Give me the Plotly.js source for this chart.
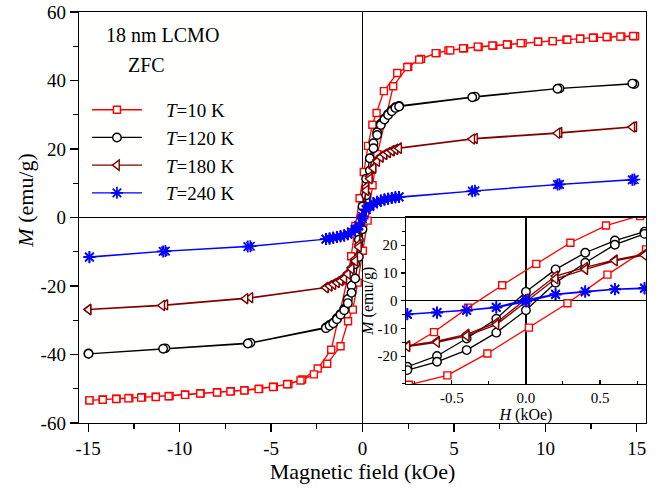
<!DOCTYPE html>
<html>
<head>
<meta charset="utf-8">
<script src="https://cdn.plot.ly/plotly-3.0.1.min.js"></script>
<style>
  html, body { margin: 0; padding: 0; background: #fff; }
  #chart { width: 668px; height: 489px; }
</style>
</head>
<body>
<div id="chart"></div>
<script>
// ---------- data (H in kOe, M in emu/g) ----------
// T = 10 K : descending branch (+H -> -H) and ascending branch (-H -> +H)
var H10_dn = [14.9, 14.15, 13.4, 12.65, 11.9, 11.15, 10.4, 9.6, 8.75, 7.95, 7.15, 6.35, 5.55, 4.7, 4.05, 3.2, 2.5, 1.9, 1.17, 0.77, 0.54, 0.30, 0.07, -0.16, -0.39, -0.62, -0.84, -1.71, -2.45, -3.3, -4.05, -4.85, -5.65, -6.45, -7.2, -7.95, -8.85, -9.7, -10.55, -11.3, -12.05, -12.75, -13.45, -14.2, -14.93];
var M10_dn = [52.9, 52.8, 52.7, 52.5, 52.2, 51.9, 51.5, 51.3, 50.9, 50.5, 50.1, 49.8, 49.4, 48.8, 48.0, 46.3, 44.0, 42.2, 36.9, 30.5, 27.1, 20.9, 13.3, 5.6, -2.5, -11.3, -18.4, -38.6, -44.1, -47.3, -48.6, -49.4, -50.0, -50.4, -50.7, -51.0, -51.3, -51.7, -52.1, -52.3, -52.5, -52.7, -52.9, -53.1, -53.4];
var H10_up = [-14.93, -14.2, -13.46, -12.8, -12.1, -11.3, -10.6, -9.7, -8.87, -7.95, -7.22, -6.46, -5.68, -4.89, -4.12, -3.39, -2.66, -1.93, -1.2, -0.79, -0.53, -0.26, 0.02, 0.28, 0.55, 0.81, 1.68, 2.45, 3.1, 4.0, 4.8, 5.5, 6.3, 7.1, 7.9, 8.65, 9.6, 10.4, 11.2, 11.9, 12.6, 13.35, 14.1, 14.8];
var M10_up = [-53.4, -53.2, -53.0, -52.8, -52.6, -52.4, -52.2, -51.8, -51.4, -51.1, -50.8, -50.5, -50.1, -49.5, -48.7, -47.6, -45.8, -42.7, -37.6, -30.3, -26.9, -19.0, -9.7, -0.9, 9.4, 18.5, 38.3, 43.9, 46.1, 48.0, 48.8, 49.4, 49.9, 50.2, 50.5, 50.9, 51.3, 51.5, 51.9, 52.2, 52.5, 52.7, 52.8, 53.0];

// T = 120 K
var H120_dn = [14.86, 10.77, 6.15, 2.0, 1.8, 1.6, 1.4, 1.2, 1.0, 0.8, 0.6, 0.4, 0.2, 0.0, -0.2, -0.4, -0.6, -0.8, -1.0, -1.2, -1.4, -1.6, -1.8, -2.0, -6.13, -10.78, -14.98];
var M120_dn = [39.0, 37.7, 35.3, 32.6, 32.2, 31.3, 30.2, 28.9, 27.4, 24.9, 21.7, 17.3, 11.3, 3.2, -6.5, -13.6, -19.9, -23.8, -26.7, -28.2, -29.4, -30.7, -31.4, -32.1, -36.6, -38.2, -39.7];
var H120_up = [-14.98, -10.9, -6.27, -2.0, -1.8, -1.6, -1.4, -1.2, -1.0, -0.8, -0.6, -0.4, -0.2, 0.0, 0.2, 0.4, 0.6, 0.8, 1.0, 1.2, 1.4, 1.6, 1.8, 2.0, 6.0, 10.66, 14.75];
var M120_up = [-39.8, -38.3, -36.8, -32.3, -31.6, -30.9, -29.7, -28.4, -27.1, -25.0, -22.0, -17.8, -11.5, -3.4, 6.5, 13.7, 20.2, 24.1, 27.0, 28.6, 29.9, 31.0, 32.0, 32.4, 35.1, 37.6, 39.1];

// T = 180 K
var H180_dn = [14.86, 10.77, 6.15, 2.0, 1.8, 1.6, 1.4, 1.2, 1.0, 0.8, 0.6, 0.4, 0.2, 0.0, -0.2, -0.4, -0.6, -0.8, -1.0, -1.2, -1.4, -1.6, -1.8, -2.0, -6.13, -10.78, -14.98];
var M180_dn = [26.5, 24.8, 23.1, 20.3, 19.9, 19.5, 19.0, 18.5, 17.9, 16.8, 14.7, 12.0, 8.9, 0.6, -7.9, -12.1, -14.6, -16.2, -17.4, -18.2, -18.8, -19.4, -19.9, -20.4, -23.4, -25.5, -26.8];
var H180_up = [-14.98, -10.95, -6.4, -2.0, -1.8, -1.6, -1.4, -1.2, -1.0, -0.8, -0.6, -0.4, -0.2, 0.0, 0.2, 0.4, 0.6, 0.8, 1.0, 1.2, 1.4, 1.6, 1.8, 2.0, 6.0, 10.66, 14.75];
var M180_up = [-26.9, -25.7, -23.7, -20.5, -20.0, -19.5, -19.0, -18.5, -17.8, -16.5, -15.0, -12.7, -8.6, -0.4, 7.9, 11.3, 14.4, 16.4, 17.6, 18.4, 19.0, 19.5, 19.9, 20.2, 22.9, 24.6, 26.4];

// T = 240 K
var H240_dn = [14.86, 10.77, 6.15, 2.0, 1.8, 1.6, 1.4, 1.2, 1.0, 0.8, 0.6, 0.4, 0.2, 0.0, -0.2, -0.4, -0.6, -0.8, -1.0, -1.2, -1.4, -1.6, -1.8, -2.0, -6.13, -10.78, -14.93];
var M240_dn = [11.1, 9.7, 7.8, 6.0, 5.9, 5.7, 5.5, 5.3, 5.0, 4.6, 4.2, 3.4, 2.4, 0.3, -2.3, -3.4, -4.2, -4.8, -5.2, -5.5, -5.7, -5.9, -6.1, -6.3, -8.4, -9.8, -11.5];
var H240_up = [-14.93, -10.9, -6.27, -2.0, -1.8, -1.6, -1.4, -1.2, -1.0, -0.8, -0.6, -0.4, -0.2, 0.0, 0.2, 0.4, 0.6, 0.8, 1.0, 1.2, 1.4, 1.6, 1.8, 2.0, 6.0, 10.66, 14.75];
var M240_up = [-11.6, -9.9, -8.5, -6.3, -6.1, -5.9, -5.7, -5.5, -5.3, -4.9, -4.3, -3.5, -2.5, -0.3, 2.2, 3.2, 4.1, 4.4, 4.9, 5.2, 5.5, 5.7, 5.9, 6.0, 7.7, 9.6, 11.0];

var seriesNames = ['<i>T</i>=10 K', '<i>T</i>=120 K', '<i>T</i>=180 K', '<i>T</i>=240 K'];

// tick labels
var mainXTicks = [-15, -10, -5, 0, 5, 10, 15];
var mainXText = ['-15', '-10', '-5', '0', '5', '10', '15'];
var mainYTicks = [-60, -40, -20, 0, 20, 40, 60];
var mainYText = ['-60', '-40', '-20', '0', '20', '40', '60'];
var insetXTicks = [-0.5, 0, 0.5];
var insetXText = ['-0.5', '0.0', '0.5'];
var insetYTicks = [-20, -10, 0, 10, 20];
var insetYText = ['-20', '-10', '0', '10', '20'];

// ---------- styling ----------
var FONT = 'Liberation Serif';
var styles = [
  {color: '#ff0000', symbol: 'square', size: 7},
  {color: '#000000', symbol: 'circle', size: 8.5},
  {color: '#800000', symbol: 'triangle-left', size: 9},
  {color: '#0000ff', symbol: 'asterisk-open', size: 10}
];
var Hs = [H10_dn.concat(H10_up), H120_dn.concat(H120_up), H180_dn.concat(H180_up), H240_dn.concat(H240_up)];
var Ms = [M10_dn.concat(M10_up), M120_dn.concat(M120_up), M180_dn.concat(M180_up), M240_dn.concat(M240_up)];

var traces = [];
[['x', 'y', true], ['x2', 'y2', false]].forEach(function (ax) {
  for (var i = 0; i < 4; i++) {
    var st = styles[i];
    var isAst = st.symbol === 'asterisk-open';
    traces.push({
      type: 'scatter', mode: 'lines+markers',
      x: Hs[i], y: Ms[i], xaxis: ax[0], yaxis: ax[1],
      name: '\u00a0\u00a0\u00a0\u00a0' + seriesNames[i],
      showlegend: ax[2],
      line: {color: st.color, width: 1.3},
      marker: {
        symbol: st.symbol, size: st.size,
        color: isAst ? st.color : '#ffffff',
        line: {color: st.color, width: isAst ? 1.7 : 1.4}
      }
    });
  }
});

var axBase = {
  showgrid: false, showline: true, linecolor: '#000', linewidth: 1.3, mirror: true,
  ticks: 'outside', tickcolor: '#000', tickwidth: 1.3,
  zeroline: true, zerolinecolor: '#000', zerolinewidth: 1.3
};
function mk(extra) { return Object.assign({}, axBase, extra); }

var layout = {
  width: 668, height: 489,
  margin: {l: 79, r: 22, t: 12, b: 66},
  paper_bgcolor: '#ffffff', plot_bgcolor: '#fffffe',
  font: {family: FONT, color: '#000', size: 17},
  showlegend: true,
  legend: {
    x: 0.014, y: 0.808, xanchor: 'left', yanchor: 'top',
    bgcolor: 'rgba(0,0,0,0)', borderwidth: 0,
    font: {family: FONT, size: 19, color: '#000'},
    itemwidth: 50, tracegroupgap: 4, traceorder: 'normal'
  },
  xaxis: mk({
    domain: [0, 1], range: [-15.5, 15.5], anchor: 'y',
    tickvals: mainXTicks, ticktext: mainXText, ticklen: 8,
    minor: {dtick: 2.5, tick0: 0, ticklen: 5, ticks: 'outside', tickcolor: '#000', tickwidth: 1.3},
    tickfont: {family: FONT, size: 19},
    title: {text: 'Magnetic field (kOe)', font: {family: FONT, size: 22}, standoff: 0}
  }),
  yaxis: mk({
    domain: [0, 1], range: [-60, 60], anchor: 'x',
    tickvals: mainYTicks, ticktext: mainYText, ticklen: 8,
    minor: {dtick: 10, tick0: 0, ticklen: 5, ticks: 'outside', tickcolor: '#000', tickwidth: 1.3},
    tickfont: {family: FONT, size: 19}
  }),
  xaxis2: mk({
    domain: [0.5765, 1.0], range: [-0.81, 0.81], anchor: 'y2',
    tickvals: insetXTicks, ticktext: insetXText, ticks: 'inside', ticklen: 4,
    minor: {dtick: 0.25, tick0: 0, ticklen: 2.5, ticks: 'inside', tickcolor: '#000', tickwidth: 1},
    tickfont: {family: FONT, size: 15},
    title: {text: '<i>H</i> (kOe)', font: {family: FONT, size: 16}, standoff: 0}
  }),
  yaxis2: mk({
    domain: [0.095, 0.5], range: [-30, 30], anchor: 'x2',
    tickvals: insetYTicks, ticktext: insetYText, ticklen: 4,
    minor: {dtick: 5, tick0: 0, ticklen: 2.5, ticks: 'outside', tickcolor: '#000', tickwidth: 1},
    tickfont: {family: FONT, size: 15},
    title: {text: '<i>M</i> (emu/g)', font: {family: FONT, size: 16}, standoff: 0}
  }),
  annotations: [
    {xref: 'paper', yref: 'paper', x: -0.096, y: 0.54, xanchor: 'center', yanchor: 'middle',
     text: '<i>M</i> (emu/g)', textangle: -90, showarrow: false, font: {family: FONT, size: 22}},
    {xref: 'paper', yref: 'paper', x: 0.044, y: 0.944, xanchor: 'left', yanchor: 'middle',
     text: '18 nm LCMO', showarrow: false, font: {family: FONT, size: 20}},
    {xref: 'paper', yref: 'paper', x: 0.083, y: 0.871, xanchor: 'left', yanchor: 'middle',
     text: 'ZFC', showarrow: false, font: {family: FONT, size: 20}}
  ]
};

Plotly.newPlot('chart', traces, layout, {displayModeBar: false, staticPlot: true});
</script>
</body>
</html>
